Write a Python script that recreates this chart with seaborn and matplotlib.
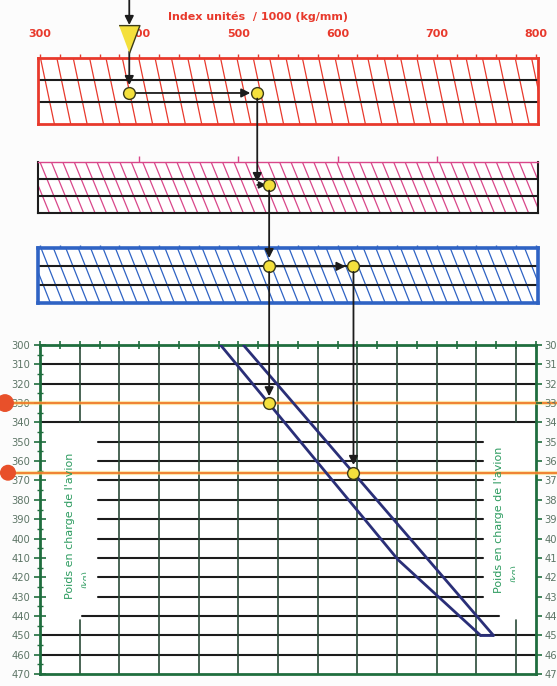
import numpy as np
import matplotlib
matplotlib.use("Agg")
import matplotlib.pyplot as plt
import seaborn as sns
from matplotlib.patches import ConnectionPatch
from matplotlib.transforms import Bbox, TransformedBbox, blended_transform_factory

sns.set_theme(style="white")
plt.rcParams['font.family'] = ['DejaVu Sans']

# ---- chart values ----
index_ticks = [300, 400, 500, 600, 700, 800]       # Index unités / 1000 (kg/mm)
weight_ticks = list(range(300, 471, 10))            # Poids en charge (kg)
guide_weights = [330, 366]                          # orange reading lines

# envelope of the lower diagram (index, weight)
env_left_idx = [482, 661, 744]
env_left_w = [300, 411, 450]
env_right_idx = [505, 757]
env_right_w = [300, 450]

# reading path through the three scales
start_idx = 390      # entry on the red scale
red_out_idx = 519    # leaving the red scale
mag_out_idx = 531    # leaving the magenta scale
blue_out_idx = 616   # leaving the blue scale

# grid of the lower diagram
hgrid_full = [310, 320, 340, 450, 460]
hgrid_mid = [350, 360, 370, 380, 390, 400, 410, 420, 430]
vgrid_full = [380, 420, 460, 500, 540, 580, 620, 660, 700, 740]
vgrid_broken = [340, 780]

# ---- style ----
RED = '#e8392c'
MAG = '#d9478a'
BLUE = '#2f63c4'
GREEN = '#1f6e3e'
LABEL_GREEN = '#2c9b5f'
NAVY = '#2a2f78'
INK = '#1c1c1c'
YEL = '#f4e03c'
ORANGE = '#f07a2a'

W, H = 557, 686
fig = plt.figure(figsize=(W / 100, H / 100), dpi=100)
fig.patch.set_facecolor('#fcfcfc')


def px_axes(x0, y0, x1, y1):
    return fig.add_axes([x0 / W, 1 - y1 / H, (x1 - x0) / W, (y1 - y0) / H])


def scale_box(rect, edge, hatch_color, spacing, run, edge_lw):
    ax = px_axes(*rect)
    ax.set_xlim(298, 802)
    ax.set_ylim(3, 0)
    ax.set_facecolor('white')
    # slanted hatching of the scale band
    for x in np.arange(298 - run, 802 + spacing, spacing):
        ax.plot([x, x + run], [0, 3], color=hatch_color, lw=0.9)
    for y in (1, 2):
        ax.axhline(y, color=INK, lw=1.5)
    for s in ax.spines.values():
        s.set_color(edge)
        s.set_linewidth(edge_lw)
    ax.set_yticks([])
    ax.xaxis.set_ticks_position('top')
    return ax


arrow_kw = dict(arrowstyle='-|>', color=INK, lw=1.3, mutation_scale=13,
                shrinkA=0, shrinkB=0)
dot_kw = dict(marker='o', ms=8.5, mfc=YEL, mec='#3a3a1a', mew=1.0,
              ls='none', zorder=12, clip_on=False)


def arrow(ax, x0, y0, x1, y1, **kw):
    ax.annotate('', xy=(x1, y1), xytext=(x0, y0), annotation_clip=False,
                arrowprops={**arrow_kw, **kw}, zorder=11)


def link(axA, pA, axB, pB):
    cp = ConnectionPatch(xyA=pA, coordsA='data', axesA=axA,
                         xyB=pB, coordsB='data', axesB=axB,
                         **{**arrow_kw, 'shrinkA': 4})
    cp.set_zorder(5)
    fig.add_artist(cp)


# ---- red scale ----
ax_red = scale_box((38, 58, 538, 124), RED, RED, 16.5, 14, 2.0)
ax_red.set_xticks(index_ticks)
ax_red.set_xticks(np.arange(300, 801, 20), minor=True)
ax_red.tick_params(which='both', direction='out', length=3, color=RED, width=1)
ax_red.tick_params(which='major', labelsize=8, labelcolor=RED, pad=11)
for lab in ax_red.get_xticklabels():
    lab.set_fontweight('bold')
fig.text(258 / W, 1 - 17 / H, 'Index unités  / 1000 (kg/mm)', color=RED,
         fontsize=8, fontweight='bold', ha='center', va='center')

# entry arrow and triangle
arrow(ax_red, start_idx, -2.7, start_idx, -1.5)
ax_red.plot([start_idx], [-0.86], marker=[(-0.75, 1), (0.75, 1), (0, -1)],
            ms=20, mfc=YEL, mec='#3a3a1a', mew=1.0, ls='none', zorder=13,
            clip_on=False)
arrow(ax_red, start_idx, -0.3, start_idx, 1.23)
arrow(ax_red, start_idx, 1.59, red_out_idx - 7, 1.59)
ax_red.plot([start_idx, red_out_idx], [1.59, 1.59], **dot_kw)

# ---- magenta scale ----
ax_mag = scale_box((38, 162, 538, 213), INK, MAG, 11.5, 21, 1.5)
ax_mag.spines['top'].set_color(MAG)
ax_mag.spines['top'].set_linewidth(1.0)
ax_mag.set_xticks(index_ticks[1:-1])
ax_mag.set_xticklabels([])
ax_mag.tick_params(direction='out', length=4, color=MAG, width=1)
link(ax_red, (red_out_idx, 1.59), ax_mag, (red_out_idx, 1.18))
arrow(ax_mag, red_out_idx, 1.35, mag_out_idx - 3, 1.35, mutation_scale=10)
ax_mag.plot([mag_out_idx], [1.35], **dot_kw)

# ---- blue scale ----
ax_blue = scale_box((38, 248, 538, 303), BLUE, BLUE, 12.5, 22, 2.6)
ax_blue.set_xticks(np.arange(300, 801, 20))
ax_blue.set_xticklabels([])
ax_blue.tick_params(direction='out', length=2, color=BLUE, width=1)
link(ax_mag, (mag_out_idx, 1.35), ax_blue, (mag_out_idx, 0.55))
arrow(ax_blue, mag_out_idx, 1.0, blue_out_idx - 8, 1.0)
ax_blue.plot([mag_out_idx, blue_out_idx], [1.0, 1.0], **dot_kw)

# ---- lower diagram ----
ax = px_axes(40, 345, 536, 674)
ax.set_facecolor('white')
ax.set_xlim(300, 800)
ax.set_ylim(470, 300)

for w in hgrid_full:
    ax.plot([300, 800], [w, w], color=INK, lw=1.5, zorder=2)
for w in hgrid_mid:
    ax.plot([358, 747], [w, w], color=INK, lw=1.5, zorder=2)
ax.plot([342, 763], [440, 440], color=INK, lw=1.5, zorder=2)
for x in vgrid_full:
    ax.plot([x, x], [300, 470], color='#2b4a38', lw=1.2, zorder=2)
for x in vgrid_broken:
    ax.plot([x, x], [300, 340], color='#2b4a38', lw=1.2, zorder=2)
    ax.plot([x, x], [442, 470], color='#2b4a38', lw=1.2, zorder=2)

# envelope
sns.lineplot(x=env_left_idx, y=env_left_w, sort=False, color=NAVY, lw=2.0,
             ax=ax, zorder=4)
sns.lineplot(x=env_right_idx, y=env_right_w, sort=False, color=NAVY, lw=2.0,
             ax=ax, zorder=4)
ax.plot([env_left_idx[-1], env_right_idx[-1]], [450, 450], color=NAVY, lw=2.0,
        zorder=4)

# orange reading lines across the whole sheet
tr = blended_transform_factory(fig.transFigure, ax.transData)
for w in guide_weights:
    ax.plot([0, 1], [w, w], transform=tr, color='#f6cf5a', lw=3.0, alpha=0.5,
            clip_on=False, zorder=3)
    ax.plot([0, 1], [w, w], transform=tr, color=ORANGE, lw=1.3,
            clip_on=False, zorder=3)
ax.scatter([5 / W, 8 / W], guide_weights, transform=tr, s=[140, 110],
           color='#e8502a', clip_on=False, zorder=6)

# arrows into the diagram
link(ax_blue, (mag_out_idx, 1.0), ax, (mag_out_idx, 326.5))
link(ax_blue, (blue_out_idx, 1.0), ax, (blue_out_idx, 362.0))
ax.plot([mag_out_idx, blue_out_idx], guide_weights, **dot_kw)

# axis labels
ax.text(330, 393.5, "Poids en charge de l'avion", rotation=90, color=LABEL_GREEN,
        fontsize=8, ha='center', va='center')
ax.text(763, 390.5, "Poids en charge de l'avion", rotation=90, color=LABEL_GREEN,
        fontsize=8, ha='center', va='center')
for x, w, xc in [(346, 421, 346.5), (779, 418, 778.5)]:
    t = ax.text(x, w, '(kg)', rotation=90, color=LABEL_GREEN, fontsize=6.5,
                ha='center', va='center', clip_on=True)
    t.set_clip_box(TransformedBbox(Bbox([[300, 300], [xc, 470]]), ax.transData))

# spines and ticks
for s in ax.spines.values():
    s.set_color(GREEN)
    s.set_linewidth(2.0)
ax.set_xticks(np.arange(300, 801, 20))
ax.set_xticklabels([])
ax.xaxis.set_ticks_position('top')
ax.tick_params(axis='x', direction='inout', length=6, color=GREEN, width=1.2)
ax.set_yticks(weight_ticks)
ax.set_yticks(np.arange(305, 470, 10), minor=True)
ax.tick_params(axis='y', which='major', direction='inout', length=8,
               color=GREEN, width=1.2, labelsize=7.2, labelcolor='#5d7566', pad=3)
ax.tick_params(axis='y', which='minor', direction='inout', length=5,
               color=GREEN, width=1.0)
ax.grid(False)

# right-hand weight scale (runs off the sheet edge, as on the original)
ax_r = ax.twinx()
ax_r.set_ylim(470, 300)
ax_r.set_yticks(weight_ticks)
ax_r.tick_params(axis='y', direction='out', length=4, color=GREEN, width=1.2,
                 labelsize=7.2, labelcolor='#5d7566', pad=2)
for s in ax_r.spines.values():
    s.set_visible(False)
ax_r.grid(False)

fig.savefig('out.png', dpi=100, facecolor=fig.get_facecolor())
